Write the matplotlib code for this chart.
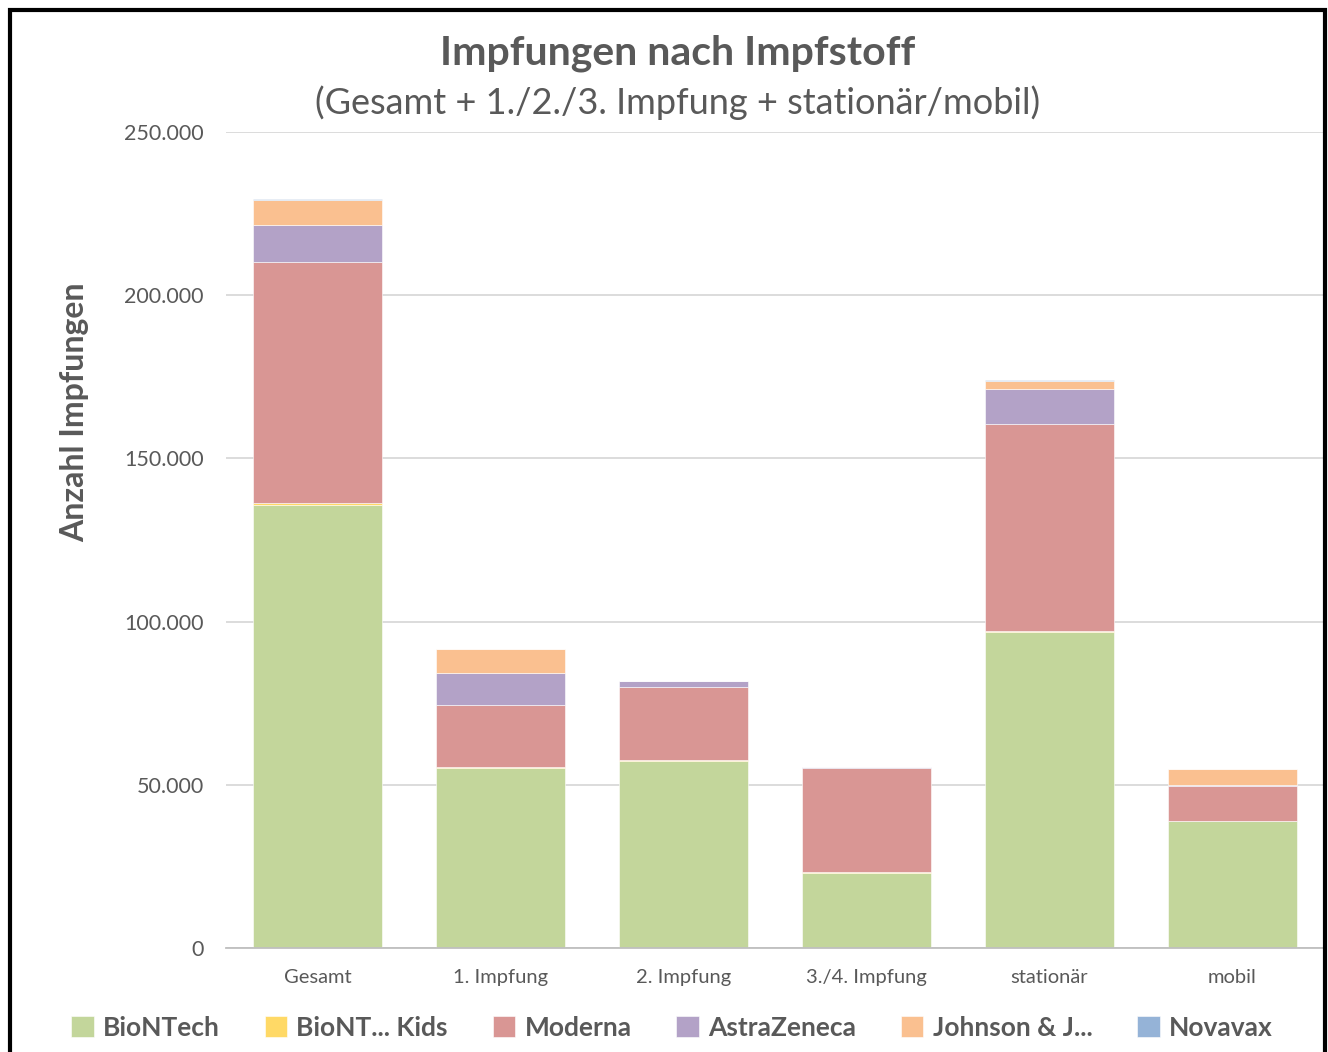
import numpy as np
import matplotlib
matplotlib.use('Agg')
import matplotlib.pyplot as plt
from matplotlib.ticker import FuncFormatter

# Categories and vaccine series
categories = ['Gesamt', '1. Impfung', '2. Impfung', '3./4. Impfung', 'stationär', 'mobil']
biontech    = [135700, 55100, 57300, 23000, 96800, 38900]
biontech_kids = [600, 300, 250, 150, 400, 150]
moderna     = [73900, 19000, 22450, 32150, 63200, 10550]
astrazeneca = [11300, 9800, 1700, 100, 10900, 300]
johnson     = [7700, 7350, 0, 0, 2400, 4800]
novavax     = [300, 150, 100, 0, 300, 100]

series = [('BioNTech', biontech, '#C3D69B'),
          ('BioNT... Kids', biontech_kids, '#FFD966'),
          ('Moderna', moderna, '#D99694'),
          ('AstraZeneca', astrazeneca, '#B3A2C7'),
          ('Johnson & J...', johnson, '#FAC090'),
          ('Novavax', novavax, '#95B3D7')]

plt.rcParams['font.family'] = ['Lato', 'DejaVu Sans']
grey = '#595959'

fig = plt.figure(figsize=(13.28, 10.52), dpi=100)
ax = fig.add_axes([226/1328, 1-948/1052, (1324-226)/1328, (948-132)/1052])

x = np.arange(len(categories))
bottom = np.zeros(len(categories))
for name, vals, col in series:
    ax.bar(x, vals, 0.71, bottom=bottom, color=col, label=name,
           edgecolor='white', linewidth=0.4, zorder=3)
    bottom += np.array(vals)

ax.set_xlim(-0.5, 5.5)
ax.set_ylim(0, 250000)
ax.set_yticks(np.arange(0, 250001, 50000))
ax.yaxis.set_major_formatter(FuncFormatter(lambda v, p: f'{int(v):,}'.replace(',', '.')))
ax.grid(axis='y', color='#D9D9D9', linewidth=1.3, zorder=0)
for s in ['top', 'right', 'left']:
    ax.spines[s].set_visible(False)
ax.spines['bottom'].set_color('#BFBFBF')
ax.spines['bottom'].set_linewidth(1.3)
ax.spines['bottom'].set_zorder(4)
ax.tick_params(axis='both', length=0, colors=grey)
ax.tick_params(axis='y', pad=16, labelsize=15.5)
ax.tick_params(axis='x', pad=15, labelsize=14.5)
ax.set_xticks(x)
ax.set_xticklabels(categories)

fig.text(75/1328, 1-412/1052, 'Anzahl Impfungen', rotation=90, ha='center', va='center',
         fontsize=23, fontweight='bold', color=grey)
fig.text(678/1328, 1-53/1052, 'Impfungen nach Impfstoff', ha='center', va='center',
         fontsize=29.5, fontweight='bold', color=grey)
fig.text(678/1328, 1-103/1052, '(Gesamt + 1./2./3. Impfung + stationär/mobil)', ha='center', va='center',
         fontsize=26, color=grey)

leg = fig.legend(loc='center', bbox_to_anchor=(672/1328, 1-1028/1052), ncol=6, frameon=False,
                 prop={'size': 19, 'weight': 'bold'}, handlelength=0.85, handleheight=0.85,
                 handletextpad=0.35, columnspacing=1.7)
for t in leg.get_texts():
    t.set_color(grey)

# black frame around the chart
fig.patches.append(plt.Rectangle((10/1328, -0.05), (1325-10)/1328, 1-10/1052+0.05,
                                 transform=fig.transFigure, fill=False, edgecolor='black', linewidth=3))

plt.savefig('out.png', dpi=100)
